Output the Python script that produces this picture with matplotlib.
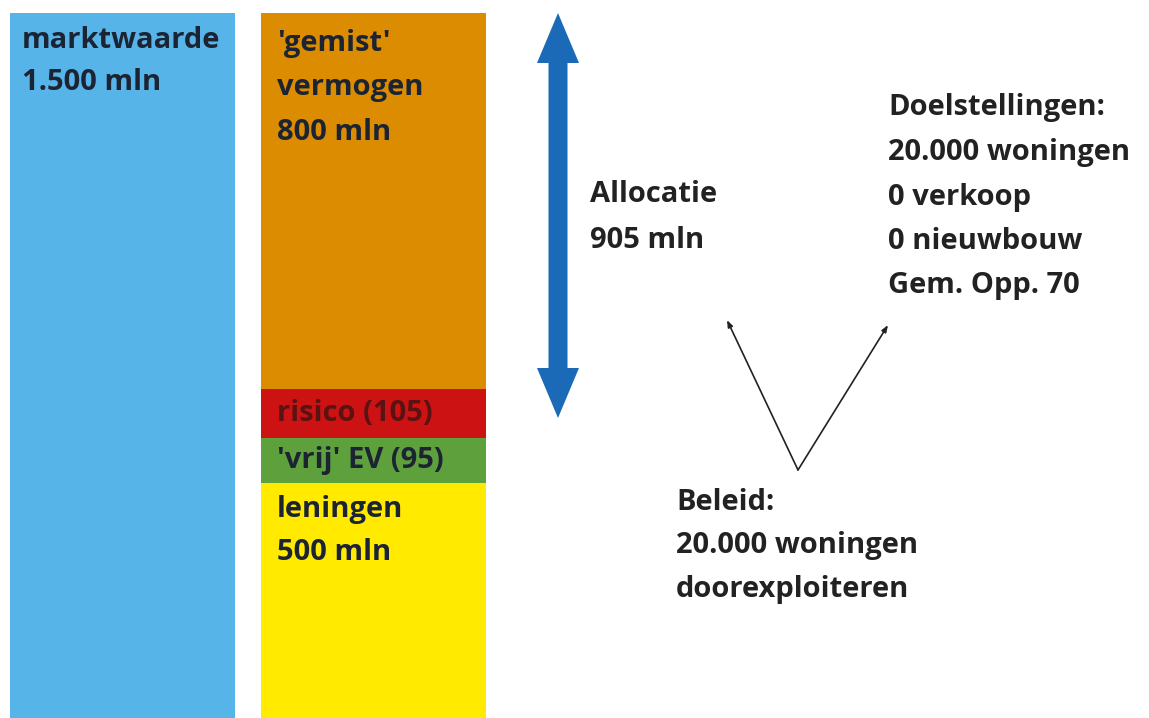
import matplotlib
matplotlib.use("Agg")
import matplotlib.pyplot as plt
import matplotlib.patches as mpatches

# Data
bar_labels = ['marktwaarde', 'passiva']
markt_total = [1500]
segments = ['leningen', "'vrij' EV", 'risico', "'gemist' vermogen"]
segment_values = [500, 95, 105, 800]
segment_colors = ['#ffea00', '#5ea03c', '#cc1212', '#dc8c00']
blue = '#56b4e9'
arrow_blue = '#1a6ab8'
bar_text = '#1c2433'
txt = '#222222'

W, H = 1149, 718
fig = plt.figure(figsize=(W / 100, H / 100), dpi=100)

# bars on a normal axes, positioned so that bars land where they are in the picture
ax = fig.add_axes([0, 0, 1, 1])
ax.bar([0], markt_total, width=0.896, color=blue)
bottom = 0
bottoms = []
for v, c in zip(segment_values, segment_colors):
    ax.bar([1], [v], width=0.896, bottom=bottom, color=c)
    bottoms.append(bottom)
    bottom += v
ax.set_xlim(-0.488, 4.09)
ax.set_ylim(0, 1500 + 13 / (705 / 1500))
ax.axis('off')

# overlay axes in pixel coordinates for annotations
ov = fig.add_axes([0, 0, 1, 1], facecolor='none')
ov.set_xlim(0, W)
ov.set_ylim(H, 0)
ov.axis('off')

font = dict(family=['Open Sans', 'DejaVu Sans'], fontweight='bold', fontsize=21)

def block(x, y, lines, color=txt, step=44.5):
    for i, line in enumerate(lines):
        ov.text(x, y + i * step, line, color=color, va='center', ha='left', **font)

# px position of a data value on the bar axes
def ypx(val):
    return H - ax.transData.transform((0, val))[1]

block(22, 40, ['marktwaarde', '1.500 mln'], bar_text, step=43)
block(277, 43, ["'gemist'", 'vermogen', '800 mln'], bar_text)
block(277, ypx(bottoms[2] + segment_values[2] / 2), ['risico (105)'], '#5a1212')
block(277, ypx(bottoms[1] + segment_values[1] / 2), ["'vrij' EV (95)"], bar_text)
block(277, ypx(segment_values[0]) + 27, ['leningen', '500 mln'], bar_text, step=43)
block(590, 195, ['Allocatie', '905 mln'], step=45)
block(888, 108, ['Doelstellingen:', '20.000 woningen', '0 verkoop',
                 '0 nieuwbouw', 'Gem. Opp. 70'], step=44.5)
block(676, 503, ['Beleid:', '20.000 woningen', 'doorexploiteren'], step=43)

# double headed allocation arrow
mid = 215
for end in (13, 418):
    ov.add_patch(mpatches.FancyArrow(558, mid, 0, end - mid, width=19,
                                     head_width=42, head_length=50,
                                     length_includes_head=True,
                                     color=arrow_blue, lw=0))

# V shaped thin arrows
for tip in [(727, 320), (888, 325)]:
    ov.annotate('', xy=tip, xytext=(798, 470),
                arrowprops=dict(arrowstyle='-|>,head_length=0.4,head_width=0.15',
                                color='#222222', lw=1.2, shrinkA=0, shrinkB=0))

fig.savefig('out.png', dpi=100)
